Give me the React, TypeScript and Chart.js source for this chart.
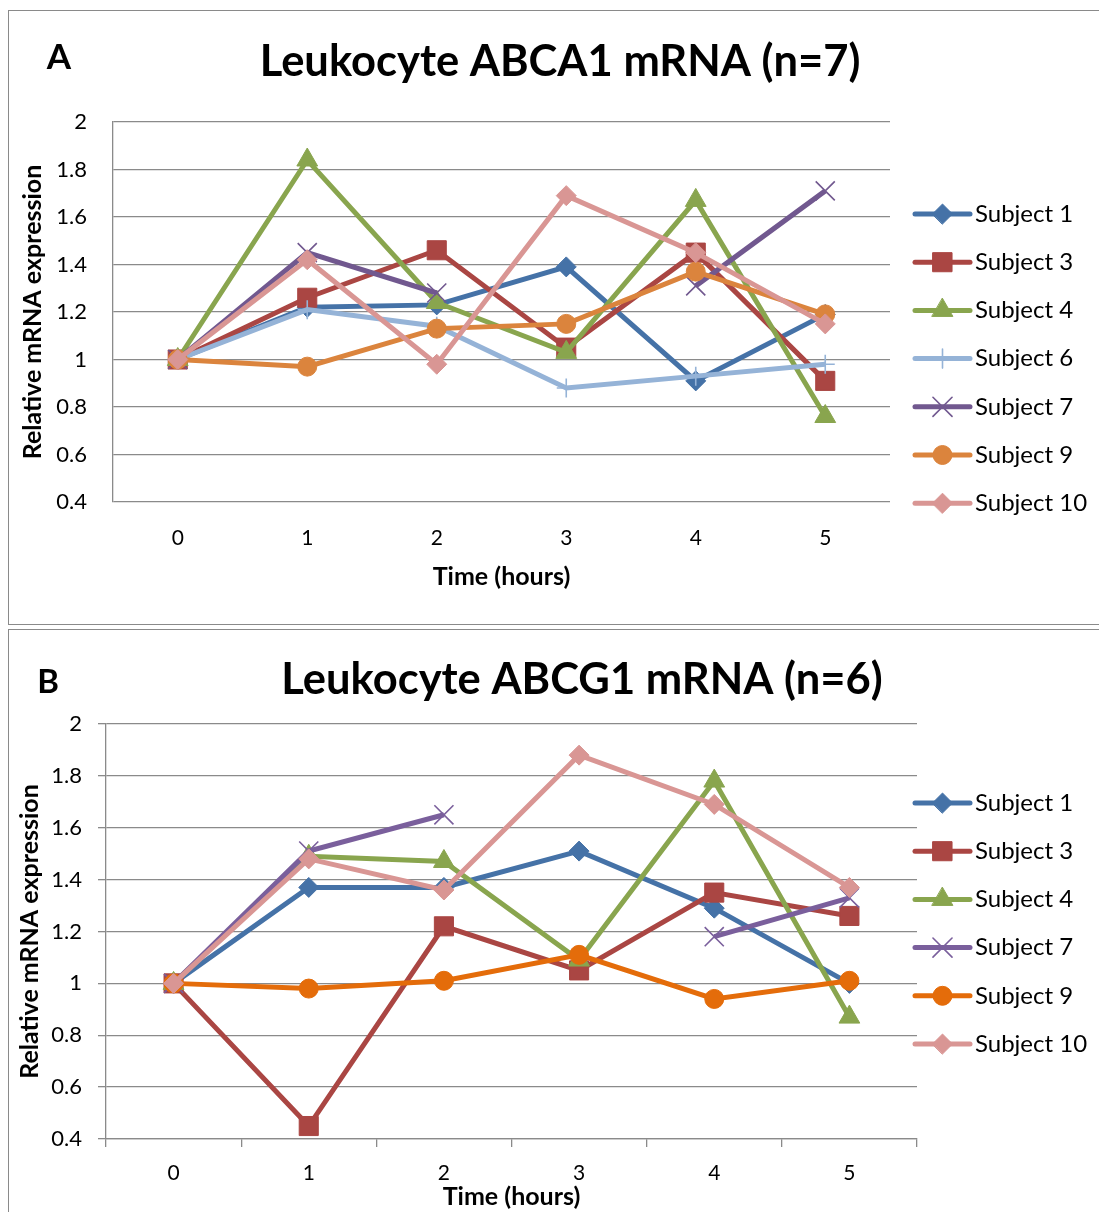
import React, { useEffect, useRef } from "react";
import { Chart, registerables } from "chart.js";
import { drawPoint } from "chart.js/helpers";

Chart.register(...registerables);
Chart.defaults.font.family = "Lato";

const CATEGORIES = ["0", "1", "2", "3", "4", "5"];
const Y_TICKS = [0.4, 0.6, 0.8, 1, 1.2, 1.4, 1.6, 1.8, 2];

// Panel A: ABCA1
const A_S1 = [1.0, 1.22, 1.23, 1.39, 0.91, 1.19];
const A_S3 = [1.0, 1.26, 1.46, 1.05, 1.45, 0.91];
const A_S4 = [1.0, 1.84, 1.24, 1.03, 1.67, 0.76];
const A_S6 = [1.0, 1.21, 1.14, 0.88, 0.93, 0.98];
const A_S7 = [1.0, 1.45, 1.28, null, 1.31, 1.71];
const A_S9 = [1.0, 0.97, 1.13, 1.15, 1.37, 1.19];
const A_S10 = [1.0, 1.42, 0.98, 1.69, 1.45, 1.15];

// Panel B: ABCG1
const B_S1 = [1.0, 1.37, 1.37, 1.51, 1.29, 1.0];
const B_S3 = [1.0, 0.45, 1.22, 1.05, 1.35, 1.26];
const B_S4 = [1.0, 1.49, 1.47, 1.09, 1.78, 0.87];
const B_S7 = [1.0, 1.51, 1.65, null, 1.18, 1.33];
const B_S9 = [1.0, 0.98, 1.01, 1.11, 0.94, 1.01];
const B_S10 = [1.0, 1.48, 1.36, 1.88, 1.69, 1.37];

const GRID = "#8a8a8a";

type Spec = { label: string; data: (number | null)[]; color: string; style: string; radius: number };

function makeDatasets(specs: Spec[]) {
  const n = specs.length;
  return specs.map((s, i) => {
    const stroke = s.style === "cross" || s.style === "crossRot";
    return {
      label: s.label,
      data: s.data,
      borderColor: s.color,
      backgroundColor: s.color,
      borderWidth: 5,
      pointStyle: s.style,
      pointRadius: s.radius,
      pointHoverRadius: s.radius,
      pointBackgroundColor: s.color,
      pointBorderColor: s.color,
      pointBorderWidth: stroke ? 1.6 : 1,
      tension: 0,
      spanGaps: false,
      order: n - i,
    };
  });
}

const extrasPlugin = {
  id: "extras",
  afterDraw(chart: any, _args: any, opts: any) {
    const ctx = chart.ctx as CanvasRenderingContext2D;
    const ca = chart.chartArea;
    ctx.save();
    ctx.fillStyle = "#000";
    ctx.textAlign = "center";
    ctx.textBaseline = "middle";
    ctx.font = `bold ${opts.titleSize}px Lato`;
    ctx.fillText(opts.title, opts.titleX, opts.titleY);
    ctx.font = `bold ${opts.letterSize}px Lato`;
    ctx.fillText(opts.letter, opts.letterX, opts.letterY);
    ctx.font = "bold 25px Lato";
    ctx.fillText(opts.xTitle, (ca.left + ca.right) / 2, opts.xTitleY);
    ctx.save();
    ctx.translate(opts.yTitleX, (ca.top + ca.bottom) / 2);
    ctx.rotate(-Math.PI / 2);
    ctx.font = "bold 25px Lato";
    ctx.fillText(opts.yTitle, 0, 0);
    ctx.restore();
    ctx.restore();

    // legend (line + marker + label)
    chart.data.datasets.forEach((ds: any, i: number) => {
      const y = opts.legendY + i * opts.legendGap;
      const x1 = opts.legendX1;
      const x2 = opts.legendX2;
      ctx.save();
      ctx.strokeStyle = ds.borderColor;
      ctx.lineWidth = ds.borderWidth;
      ctx.lineCap = "round";
      ctx.beginPath();
      ctx.moveTo(x1, y);
      ctx.lineTo(x2, y);
      ctx.stroke();
      ctx.fillStyle = ds.pointBackgroundColor;
      ctx.strokeStyle = ds.pointBorderColor;
      ctx.lineWidth = ds.pointBorderWidth;
      drawPoint(ctx, { pointStyle: ds.pointStyle, radius: ds.pointRadius, rotation: 0, borderWidth: ds.pointBorderWidth } as any, (x1 + x2) / 2, y);
      ctx.fillStyle = "#000";
      ctx.font = "24px Lato";
      ctx.textAlign = "left";
      ctx.textBaseline = "middle";
      ctx.fillText(ds.label, opts.legendTextX, y);
      ctx.restore();
    });
  },
};

type PanelProps = {
  width: number;
  height: number;
  specs: Spec[];
  padding: { top: number; right: number; bottom: number; left: number };
  yWidth: number;
  xHeight: number;
  panelB: boolean;
  extras: any;
};

function PanelChart(p: PanelProps) {
  const ref = useRef<HTMLCanvasElement>(null);
  useEffect(() => {
    if (!ref.current) return;
    const chart = new Chart(ref.current, {
      type: "line",
      data: { labels: CATEGORIES, datasets: makeDatasets(p.specs) as any },
      options: {
        animation: false,
        responsive: false,
        devicePixelRatio: 1,
        layout: { padding: p.padding },
        plugins: {
          legend: { display: false },
          title: { display: false },
          tooltip: { enabled: false },
          extras: p.extras,
        } as any,
        scales: {
          x: {
            type: "category",
            offset: true,
            grid: p.panelB
              ? { display: true, drawOnChartArea: false, drawTicks: true, tickLength: 8, color: GRID, lineWidth: 1.3, offset: true }
              : { display: false },
            border: { display: p.panelB, color: GRID, width: 1.3 },
            ticks: { color: "#000", font: { size: 21 }, padding: p.panelB ? 14 : 16, maxRotation: 0 },
            afterFit: (s: any) => {
              s.height = p.xHeight;
            },
          },
          y: {
            min: 0.4,
            max: 2,
            afterBuildTicks: (s: any) => {
              s.ticks = Y_TICKS.map((v) => ({ value: v }));
            },
            grid: { color: GRID, lineWidth: 1.3, drawTicks: p.panelB, tickLength: 8 },
            border: { display: true, color: GRID, width: 1.3 },
            ticks: {
              color: "#000",
              font: { size: 22 },
              padding: p.panelB ? 16 : 26,
              callback: (v: any) => String(v),
            },
            afterFit: (s: any) => {
              s.width = p.yWidth;
            },
          },
        },
      },
      plugins: [extrasPlugin],
    });
    return () => chart.destroy();
  }, []);
  return <canvas ref={ref} width={p.width} height={p.height} style={{ display: "block", width: p.width, height: p.height }} />;
}

const specsA: Spec[] = [
  { label: "Subject 1", data: A_S1, color: "#4572A7", style: "rectRot", radius: 10 },
  { label: "Subject 3", data: A_S3, color: "#AA4643", style: "rect", radius: 13.5 },
  { label: "Subject 4", data: A_S4, color: "#89A54E", style: "triangle", radius: 12 },
  { label: "Subject 6", data: A_S6, color: "#95B3D7", style: "cross", radius: 9.5 },
  { label: "Subject 7", data: A_S7, color: "#71588F", style: "crossRot", radius: 13.5 },
  { label: "Subject 9", data: A_S9, color: "#DB843D", style: "circle", radius: 9.5 },
  { label: "Subject 10", data: A_S10, color: "#D99694", style: "rectRot", radius: 10 },
];

const specsB: Spec[] = [
  { label: "Subject 1", data: B_S1, color: "#4572A7", style: "rectRot", radius: 10 },
  { label: "Subject 3", data: B_S3, color: "#AA4643", style: "rect", radius: 13.5 },
  { label: "Subject 4", data: B_S4, color: "#89A54E", style: "triangle", radius: 12 },
  { label: "Subject 7", data: B_S7, color: "#7A5F9C", style: "crossRot", radius: 13.5 },
  { label: "Subject 9", data: B_S9, color: "#E46C0A", style: "circle", radius: 9.5 },
  { label: "Subject 10", data: B_S10, color: "#D99694", style: "rectRot", radius: 10 },
];

export default function App() {
  const panelStyle: React.CSSProperties = {
    position: "absolute",
    left: 8,
    width: 1200,
    border: "1px solid #8a8a8a",
    background: "#fff",
  };
  return (
    <div style={{ position: "fixed", left: 0, top: 0, width: 1099, height: 1212, overflow: "hidden", background: "#fff" }}>
      <div style={{ ...panelStyle, top: 10, height: 613 }}>
        <PanelChart
          width={1090}
          height={613}
          specs={specsA}
          padding={{ top: 111, right: 209, bottom: 0, left: 0 }}
          yWidth={104}
          xHeight={122}
          panelB={false}
          extras={{
            title: "Leukocyte ABCA1 mRNA (n=7)",
            titleSize: 43.5,
            titleX: 551,
            titleY: 51,
            letter: "A",
            letterSize: 35,
            letterX: 50,
            letterY: 47,
            xTitle: "Time (hours)",
            xTitleY: 566,
            yTitle: "Relative mRNA expression",
            yTitleX: 24,
            legendY: 203,
            legendGap: 48.2,
            legendX1: 906,
            legendX2: 961,
            legendTextX: 966,
          }}
        />
      </div>
      <div style={{ ...panelStyle, top: 629, height: 700 }}>
        <PanelChart
          width={1090}
          height={582}
          specs={specsB}
          padding={{ top: 94, right: 182, bottom: 0, left: 0 }}
          yWidth={97}
          xHeight={73}
          panelB={true}
          extras={{
            title: "Leukocyte ABCG1 mRNA (n=6)",
            titleSize: 43.5,
            titleX: 573,
            titleY: 50,
            letter: "B",
            letterSize: 33,
            letterX: 39,
            letterY: 52,
            xTitle: "Time (hours)",
            xTitleY: 567,
            yTitle: "Relative mRNA expression",
            yTitleX: 21,
            legendY: 173,
            legendGap: 48.2,
            legendX1: 906,
            legendX2: 961,
            legendTextX: 966,
          }}
        />
      </div>
    </div>
  );
}
